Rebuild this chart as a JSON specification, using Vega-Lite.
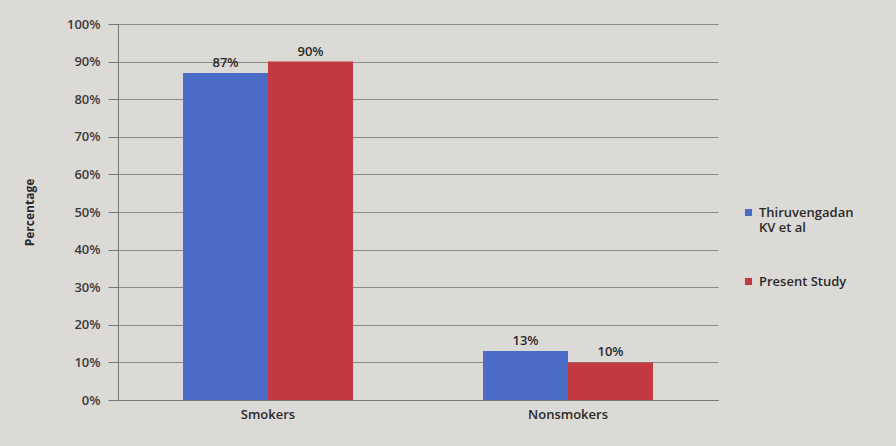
{
  "$schema": "https://vega.github.io/schema/vega-lite/v6.json",
  "autosize": {"type": "none"},
  "width": 600,
  "height": 376,
  "padding": {"left": 118, "top": 24, "right": 178, "bottom": 46},
  "background": "#dcdad6",
  "config": {
    "font": "Open Sans",
    "view": {"stroke": null}
  },
  "data": {
    "values": [
      {"group": "Smokers", "study": "Thiruvengadan KV et al", "value": 87, "lbl": "87%"},
      {"group": "Smokers", "study": "Present Study", "value": 90, "lbl": "90%"},
      {"group": "Nonsmokers", "study": "Thiruvengadan KV et al", "value": 13, "lbl": "13%"},
      {"group": "Nonsmokers", "study": "Present Study", "value": 10, "lbl": "10%"}
    ]
  },
  "encoding": {
    "x": {
      "field": "group",
      "type": "nominal",
      "sort": ["Smokers", "Nonsmokers"],
      "scale": {"paddingInner": 0, "paddingOuter": 0},
      "axis": {
        "title": null,
        "labelAngle": 0,
        "labelFontSize": 13,
        "labelColor": "#2a2a2a",
        "labelFontWeight": 600,
        "labelPadding": 8,
        "ticks": false,
        "domainColor": "#777777"
      }
    },
    "xOffset": {
      "field": "study",
      "sort": ["Thiruvengadan KV et al", "Present Study"],
      "scale": {"paddingInner": 0, "paddingOuter": 0.765}
    },
    "y": {
      "field": "value",
      "type": "quantitative",
      "scale": {"domain": [0, 100]},
      "axis": {
        "title": "Percentage",
        "titleFontSize": 12,
        "titleFontWeight": "bold",
        "titleColor": "#2a2a2a",
        "titlePadding": 30,
        "values": [0, 10, 20, 30, 40, 50, 60, 70, 80, 90, 100],
        "labelExpr": "datum.value + '%'",
        "labelFontSize": 13,
        "labelFontWeight": 600,
        "labelColor": "#3a3a3a",
        "labelPadding": 8,
        "tickSize": 10,
        "tickColor": "#777777",
        "gridColor": "#8a8a8a",
        "gridWidth": 1,
        "domainColor": "#777777"
      }
    }
  },
  "layer": [
    {
      "mark": {"type": "bar"},
      "encoding": {
        "color": {
          "field": "study",
          "type": "nominal",
          "sort": ["Thiruvengadan KV et al", "Present Study"],
          "scale": {"domain": ["Thiruvengadan KV et al", "Present Study"], "range": ["#4a6cc6", "#c23a40"]},
          "legend": {
            "title": null,
            "orient": "none",
            "legendX": 624,
            "legendY": 182,
            "symbolType": "square",
            "symbolSize": 50,
            "labelFontSize": 13,
            "labelFontWeight": 600,
            "labelColor": "#2a2a2a",
            "labelLineHeight": 17,
            "rowPadding": 40,
            "labelExpr": "datum.label == 'Thiruvengadan KV et al' ? ['Thiruvengadan', 'KV et al'] : datum.label"
          }
        }
      }
    },
    {
      "mark": {"type": "text", "dy": -10, "fontSize": 13, "fontWeight": 600, "color": "#2a2a2a"},
      "encoding": {
        "text": {"field": "lbl", "type": "nominal"},
        "detail": {"field": "study"}
      }
    }
  ]
}
